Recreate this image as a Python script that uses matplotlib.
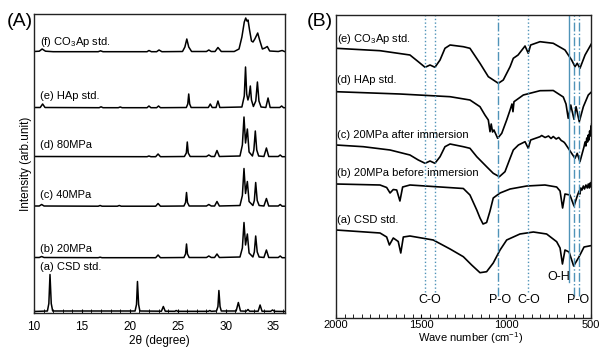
import matplotlib.pyplot as plt
from matplotlib.ticker import MultipleLocator

plt.rcParams['font.family'] = ['Liberation Sans', 'DejaVu Sans']
plt.rcParams['mathtext.fontset'] = 'custom'
plt.rcParams['mathtext.rm'] = 'Liberation Sans'
plt.rcParams['mathtext.it'] = 'Liberation Sans:italic'

# ---- (A) XRD patterns: 2theta (deg) and intensity above each baseline ----
xrd_labels = ["(a) CSD std.", "(b) 20MPa", "(c) 40MPa", "(d) 80MPa",
              "(e) HAp std.", "(f) CO$_3$Ap std."]
xrd_offsets = [1.5, 55, 106.5, 156, 205, 261]

csd_tt = [10.0, 11.4, 11.55, 11.67, 11.8, 11.95, 20.55, 20.7, 20.8, 20.92, 21.05,
          23.3, 23.5, 23.7, 24.7, 24.85, 25.0, 28.2, 28.35, 28.5, 29.05, 29.2, 29.3,
          29.42, 29.55, 31.1, 31.33, 31.55, 32.15, 32.34, 32.5, 33.4, 33.6, 33.8,
          34.7, 34.9, 35.1, 36.2]
csd_i = [0, 0.5, 8, 37, 8, 0.5, 0.5, 7, 30, 7, 0.5,
         0.3, 5, 0.3, 0.2, 1, 0.2, 0.2, 1, 0.2, 0.5, 5, 21,
         5, 0.5, 0.5, 9, 0.5, 0.3, 2, 0.3, 0.3, 6.5, 0.3,
         0.2, 1.5, 0.2, 0]

mpa20_tt = [10.0, 10.55, 10.8, 11.05, 16.7, 16.9, 17.1, 22.7, 22.95, 23.2, 25.65,
            25.82, 25.92, 26.02, 26.2, 28.0, 28.25, 28.5, 28.85, 29.1, 29.35, 31.5,
            31.75, 31.92, 32.08, 32.27, 32.45, 32.85, 33.0, 33.14, 33.3, 33.5, 34.0,
            34.26, 34.5, 35.5, 35.7, 35.9, 36.2]
mpa20_i = [0.5, 0.5, 1.5, 0.5, 0.3, 0.8, 0.3, 0.3, 3, 0.3, 0.5,
           4, 14, 4, 0.5, 0.5, 2, 0.5, 0.5, 4, 0.5, 1,
           10, 35.5, 13, 24, 5, 1, 6, 22, 6, 1, 0.5,
           8, 0.5, 0.5, 2, 0.3, 0.3]

mpa40_tt = [10.0, 10.55, 10.8, 11.05, 16.7, 16.9, 17.1, 18.7, 18.9, 19.1, 22.7,
            22.95, 23.2, 25.65, 25.82, 25.92, 26.02, 26.2, 28.0, 28.25, 28.5, 28.85,
            29.1, 29.35, 31.5, 31.75, 31.92, 32.08, 32.27, 32.45, 32.85, 33.0, 33.14,
            33.3, 33.5, 34.0, 34.26, 34.5, 35.5, 35.7, 35.9, 36.2]
mpa40_i = [0.5, 0.5, 2, 0.5, 0.3, 1, 0.3, 0.3, 1, 0.3, 0.3,
           3, 0.3, 0.5, 4, 14, 4, 0.5, 0.5, 2, 0.5, 0.5,
           5, 0.5, 1, 11, 38, 13, 25, 5, 1, 6, 24,
           6, 1, 0.5, 8, 0.5, 0.5, 2, 0.3, 0.3]

mpa80_tt = [10.0, 21.8, 22.0, 22.2, 22.7, 22.95, 23.2, 25.7, 25.9, 26.0, 26.1, 26.3,
            28.0, 28.25, 28.5, 28.85, 29.1, 29.35, 31.5, 31.75, 31.92, 32.08, 32.27,
            32.45, 32.8, 32.95, 33.1, 33.25, 33.45, 34.0, 34.26, 34.5, 35.5, 35.7,
            35.9, 36.2]
mpa80_i = [0.5, 0.3, 1, 0.3, 0.3, 3, 0.3, 0.5, 4, 15, 4, 0.5,
           0.5, 2, 0.5, 0.5, 6.5, 0.5, 1, 12, 40, 14, 28,
           5, 1, 7, 26, 7, 1, 0.5, 9, 0.5, 0.5, 2,
           0.3, 0.3]

hap_tt = [10.0, 10.65, 10.9, 11.15, 16.8, 17.0, 17.2, 18.8, 19.0, 19.2, 21.8, 22.0,
          22.2, 22.8, 23.0, 23.2, 25.9, 26.05, 26.15, 26.25, 26.4, 28.2, 28.4, 28.6,
          29.0, 29.2, 29.4, 31.7, 31.95, 32.08, 32.2, 32.33, 32.45, 32.58, 32.7, 32.9,
          33.15, 33.32, 33.48, 33.7, 34.2, 34.43, 34.65, 35.65, 35.85, 36.05, 36.2]
hap_i = [0.5, 0.5, 4, 0.5, 0.3, 1.2, 0.3, 0.3, 1, 0.3, 0.3, 2,
         0.3, 0.3, 2, 0.3, 0.5, 4, 14, 4, 0.5, 0.5, 4, 0.5,
         0.5, 7, 0.5, 1, 12, 41, 14, 8, 12, 22, 8, 1.5,
         7, 26, 7, 1, 0.5, 10, 0.5, 0.5, 2, 0.3, 0.3]

co3ap_tt = [10.0, 10.55, 10.85, 11.2, 12.0, 16.7, 16.95, 17.2, 21.8, 22.0, 22.25,
            22.8, 23.05, 23.35, 25.5, 25.75, 25.95, 26.15, 26.45, 28.0, 28.25, 28.5,
            28.9, 29.2, 29.55, 30.9, 31.4, 31.7, 31.95, 32.1, 32.22, 32.34, 32.5,
            32.7, 32.86, 33.05, 33.35, 33.55, 33.84, 34.1, 34.35, 34.6, 35.5, 35.9, 36.2]
co3ap_i = [0.5, 0.8, 3, 0.8, 0.3, 0.3, 1.2, 0.3, 0.3, 1.5, 0.3,
           0.3, 2, 0.3, 0.5, 5, 13, 5, 0.5, 0.5, 2, 0.5,
           0.5, 4.5, 0.5, 0.5, 3, 15, 30, 34, 31, 32, 22,
           11, 10, 13, 19, 12, 3, 4, 5.5, 1, 0.5, 1.5, 0.3]

# ---- (B) FTIR spectra: wave number (cm-1) and stacked transmittance ----
ftir_labels = ["(a) CSD std.", "(b) 20MPa before immersion", "(c) 20MPa after immersion",
               "(d) HAp std.", "(e) CO$_3$Ap std."]
ftir_label_y = [98, 145, 183, 238, 279]

csd_wn = [2000, 1741, 1702, 1686, 1663, 1634, 1619, 1604, 1565, 1428, 1329, 1251, 1202,
          1153, 1114, 1075, 1035, 996, 918, 839, 761, 702, 682, 668, 653, 629, 602,
          571, 541, 496]
csd_t = [88, 85, 81, 73, 80, 76.5, 65, 81, 82, 78, 69, 61.3, 53,
         45.3, 46.3, 55, 68, 78, 84, 86, 84, 76.3, 70, 54, 68, 66, 52,
         61, 71, 72.5]

before_wn = [2000, 1741, 1702, 1682, 1663, 1643, 1624, 1608, 1565, 1251, 1212, 1172,
             1153, 1135, 1114, 1094, 1075, 1035, 976, 878, 771, 702, 682, 667, 653,
             624, 600, 579, 570, 565, 560, 553, 545, 538, 530, 522, 516, 510, 505,
             500, 496]
before_t = [134, 133, 130.5, 125, 128.5, 128, 117, 131, 133, 129.5, 123, 108,
            100, 94, 95.5, 107, 120, 125, 129, 132, 133, 131, 127, 110, 124,
            123, 112, 123, 127, 124, 130, 128, 132, 129, 133, 130, 134, 130, 135,
            131, 137]

after_wn = [2000, 1839, 1682, 1565, 1516, 1476, 1447, 1418, 1388, 1359, 1329, 1251,
            1212, 1172, 1114, 1075, 1039, 1006, 976, 957, 927, 888, 869, 855, 800,
            790, 770, 750, 735, 722, 705, 690, 675, 660, 653, 614, 594, 581, 565,
            541, 535, 530, 525, 520, 516, 512, 508, 504, 500, 498, 496]
after_t = [173, 171.3, 168, 163, 158, 154.7, 157, 154.7, 161.3, 171.3, 174, 171.3,
           169.7, 161.3, 151.3, 144.7, 141.3, 146.3, 159.7, 168, 173, 176.3, 169.7, 178, 181.3,
           182.5, 180.5, 182, 179.5, 181.5, 179, 180.5, 177.5, 176, 174.7, 164.7, 159.7, 164.7, 156.3,
           171.3, 176, 172, 180, 176, 183, 178, 187, 182, 192, 186, 194]

hap_wn = [2000, 1624, 1329, 1212, 1153, 1124, 1104, 1094, 1087, 1079, 1071, 1049,
          1025, 996, 976, 965, 959, 953, 898, 800, 722, 663, 647, 634, 619, 600,
          588, 569, 545, 516, 496]
hap_t = [226.3, 224, 221.3, 218, 211.3, 203, 198, 186.3, 194, 186, 188, 179.7,
         184.7, 198, 208, 214, 206.3, 216.3, 223, 227.3, 227.5, 221, 214, 199.7, 213, 198.7,
         211.3, 196.3, 211.3, 223, 226.3]

co3_wn = [2000, 1741, 1565, 1516, 1476, 1447, 1418, 1388, 1359, 1329, 1251, 1212,
          1153, 1104, 1045, 1016, 976, 957, 929, 888, 869, 855, 800, 722, 653, 614,
          594, 581, 565, 535, 496]
co3_t = [269.7, 267.3, 263, 256.3, 250.7, 253, 250.7, 258, 269.7, 273, 271.3, 269.7,
         254.7, 241.3, 234.7, 238, 251.3, 259.7, 263, 272, 264.7, 273, 276.3, 274.7, 268, 258,
         251.3, 254.7, 249.7, 263, 274.7]

# assignment lines: wave number, style, label
band_wn = [1478, 1420, 870, 1045, 601, 570, 632]
band_style = [':', ':', ':', '-.', '-.', '-.', '-']
band_text = ["C-O", "P-O", "C-O", "P-O", "O-H"]
band_text_wn = [1447, 1035, 866, 576, 689]

fig = plt.figure(figsize=(6.03, 3.47), dpi=100)
axA = fig.add_axes([34 / 603, 34 / 347, 251 / 603, 299 / 347])
axB = fig.add_axes([336 / 603, 29 / 347, 255 / 603, 303 / 347])

xrd = [(csd_tt, csd_i), (mpa20_tt, mpa20_i), (mpa40_tt, mpa40_i),
       (mpa80_tt, mpa80_i), (hap_tt, hap_i), (co3ap_tt, co3ap_i)]
xrd_label_y = [46, 64, 118, 168, 217, 271]
for (tt, inten), off, lab, ly in zip(xrd, xrd_offsets, xrd_labels, xrd_label_y):
    axA.plot(tt, [v + off for v in inten], color='black', lw=1.1)
    axA.text(10.63, ly, lab, fontsize=8, ha='left', va='center')

axA.set_xlim(10, 36.2)
axA.set_ylim(0, 299)
axA.xaxis.set_major_locator(MultipleLocator(5))
axA.xaxis.set_minor_locator(MultipleLocator(1))
axA.set_yticks([])
axA.tick_params(axis='x', which='both', direction='in', labelsize=8.5, pad=5.5, length=3)
axA.set_xlabel("2θ (degree)", fontsize=8.5)
axA.xaxis.set_label_coords(0.5, -0.074)
axA.xaxis.label.set_va('top')
axA.set_ylabel("Intensity (arb.unit)", fontsize=8.5)
axA.yaxis.set_label_coords(-0.007, 0.5)

ftir = [(csd_wn, csd_t), (before_wn, before_t), (after_wn, after_t),
        (hap_wn, hap_t), (co3_wn, co3_t)]
for (wn, t), lab, ly in zip(ftir, ftir_labels, ftir_label_y):
    axB.plot(wn, t, color='black', lw=1.2)
    axB.text(1994, ly, lab, fontsize=8, ha='left', va='center')

line_color = '#4f93b8'
for wn, ls in zip(band_wn, band_style):
    if ls == '-':
        bottom = 36
    elif ls == ':':
        bottom = 26
    else:
        bottom = 22
    axB.plot([wn, wn], [bottom, 303], color=line_color, ls=ls, lw=1.0)
for wn, txt in zip(band_text_wn, band_text):
    ty = 41 if txt == "O-H" else 18
    axB.text(wn, ty, txt, fontsize=9, ha='center', va='center')

axB.set_xlim(2000, 500)
axB.set_ylim(0, 303)
axB.xaxis.set_major_locator(MultipleLocator(500))
axB.xaxis.set_minor_locator(MultipleLocator(50))
axB.set_yticks([])
axB.tick_params(axis='x', which='both', direction='in', labelsize=8, pad=1.5, length=3)
axB.set_xlabel("Wave number (cm$^{-1}$)", fontsize=8)
axB.xaxis.set_label_coords(471 / 603, 0.5 / 347, transform=fig.transFigure)
axB.xaxis.label.set_va('bottom')

for ax in (axA, axB):
    for sp in ax.spines.values():
        sp.set_linewidth(1.0)
        sp.set_color('#222222')

fig.text(7 / 603, 1 - 21 / 347, "(A)", fontsize=14, ha='left', va='center')
fig.text(307 / 603, 1 - 21 / 347, "(B)", fontsize=14, ha='left', va='center')

fig.savefig("out.png", dpi=100)
plt.close(fig)
